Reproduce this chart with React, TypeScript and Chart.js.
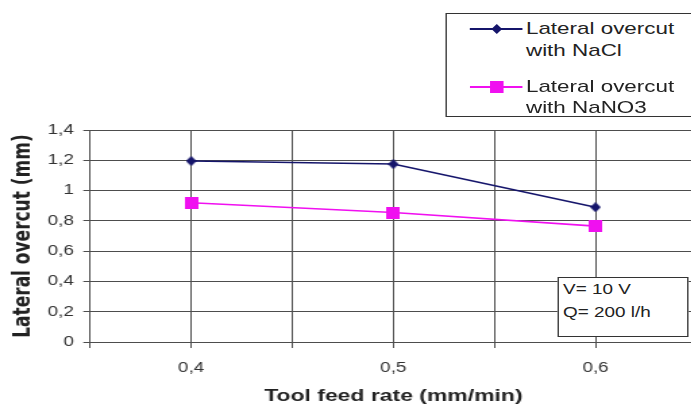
import React, { useEffect, useRef } from "react";
import { Chart, registerables } from "chart.js";

Chart.register(...registerables);

// ---- data ----
const feedRates = [0.4, 0.5, 0.6];
const xTickLabels = ["0,4", "0,5", "0,6"];
const xGridValues = [0.35, 0.4, 0.45, 0.5, 0.55, 0.6, 0.65];
const naclOvercut = [1.195, 1.175, 0.89];
const nano3Overcut = [0.92, 0.855, 0.765];
const yTickValues = [0, 0.2, 0.4, 0.6, 0.8, 1.0, 1.2, 1.4];
const seriesNames = ["Lateral overcut with NaCl", "Lateral overcut with NaNO3"];
const noteLines = ["V= 10 V", "Q= 200 l/h"];

const FONT = "'Liberation Sans', Arial, sans-serif";
const STRETCH = 1.35;
const NAVY = "#15156b";
const MAGENTA = "#f010f0";
const CW = 528;

function makeDiamond(w: number, h: number, color: string) {
  const c = document.createElement("canvas");
  c.width = w;
  c.height = h;
  const ctx = c.getContext("2d")!;
  ctx.fillStyle = color;
  ctx.beginPath();
  ctx.moveTo(w / 2, 0);
  ctx.lineTo(w, h / 2);
  ctx.lineTo(w / 2, h);
  ctx.lineTo(0, h / 2);
  ctx.closePath();
  ctx.fill();
  return c;
}

function makeRect(w: number, h: number, color: string) {
  const c = document.createElement("canvas");
  c.width = w;
  c.height = h;
  const ctx = c.getContext("2d")!;
  ctx.fillStyle = color;
  ctx.fillRect(0, 0, w, h);
  return c;
}

function fmtComma(v: number) {
  const r = Math.round(v * 10) / 10;
  return String(r).replace(".", ",");
}

export default function App() {
  const canvasRef = useRef<HTMLCanvasElement | null>(null);

  useEffect(() => {
    if (!canvasRef.current) return;
    const diamond = makeDiamond(8, 10, NAVY);
    const square = makeRect(10, 12, MAGENTA);
    const chart = new Chart(canvasRef.current, {
      type: "line",
      data: {
        datasets: [
          {
            label: seriesNames[0],
            data: feedRates.map((x, i) => ({ x, y: naclOvercut[i] })),
            borderColor: NAVY,
            backgroundColor: NAVY,
            borderWidth: 1.6,
            pointStyle: diamond as any,
            pointRadius: 5,
            tension: 0,
          },
          {
            label: seriesNames[1],
            data: feedRates.map((x, i) => ({ x, y: nano3Overcut[i] })),
            borderColor: MAGENTA,
            backgroundColor: MAGENTA,
            borderWidth: 1.6,
            pointStyle: square as any,
            pointRadius: 6,
            tension: 0,
          },
        ],
      },
      options: {
        animation: false,
        responsive: false,
        maintainAspectRatio: false,
        events: [],
        layout: { padding: { top: 130, left: 0, right: 0, bottom: 0 } },
        plugins: {
          legend: { display: false },
          tooltip: { enabled: false },
        },
        scales: {
          x: {
            type: "linear",
            position: "bottom",
            min: 0.35,
            max: 0.65,
            afterBuildTicks: (s: any) => {
              s.ticks = xGridValues.map((v) => ({ value: v }));
            },
            afterFit: (s: any) => {
              s.height = 68;
            },
            ticks: {
              autoSkip: false,
              maxRotation: 0,
              padding: 12,
              color: "#333",
              font: { family: FONT, size: 14 },
              callback: (v: any) => {
                const i = feedRates.findIndex((f) => Math.abs(f - Number(v)) < 1e-6);
                return i >= 0 ? xTickLabels[i] : "";
              },
            },
            grid: { color: "#4d4d4d", lineWidth: 1, tickLength: 6, drawTicks: true },
            border: { color: "#4d4d4d", width: 1 },
            title: {
              display: true,
              text: "Tool feed rate (mm/min)",
              color: "#222",
              font: { family: FONT, size: 17, weight: "bold" },
              padding: { top: 0, bottom: 3 },
            },
          },
          y: {
            type: "linear",
            min: 0,
            max: 1.4,
            afterBuildTicks: (s: any) => {
              s.ticks = yTickValues.map((v) => ({ value: v }));
            },
            afterFit: (s: any) => {
              s.width = 66.7;
            },
            ticks: {
              padding: 7,
              color: "#333",
              font: { family: FONT, size: 14 },
              callback: (v: any) => fmtComma(Number(v)),
            },
            grid: { color: "#4d4d4d", lineWidth: 1, tickLength: 5, drawTicks: true },
            border: { color: "#4d4d4d", width: 1 },
            title: {
              display: true,
              text: "Lateral overcut (mm)",
              color: "#222",
              font: { family: "'DejaVu Sans', sans-serif", size: 17, weight: "bold" },
              padding: { top: 7, bottom: 0 },
            },
          },
        },
      } as any,
    });
    return () => chart.destroy();
  }, []);

  const textStyle: React.CSSProperties = {
    fontFamily: FONT,
    color: "#222",
    whiteSpace: "nowrap",
  };

  return (
    <div
      style={{
        position: "fixed",
        left: 0,
        top: 0,
        width: 691,
        height: 410,
        overflow: "hidden",
        background: "#fff",
      }}
    >
      <div
        style={{
          position: "absolute",
          left: 0,
          top: 0,
          width: CW,
          height: 410,
          transform: `scaleX(${STRETCH})`,
          transformOrigin: "0 0",
        }}
      >
        <canvas ref={canvasRef} width={CW} height={410} style={{ width: CW, height: 410, display: "block" }} />
        {/* legend */}
        <div
          style={{
            position: "absolute",
            left: 329.6,
            top: 13,
            width: 200,
            height: 104,
            border: "1px solid #333",
            background: "#fff",
            boxSizing: "border-box",
          }}
        >
          <div style={{ position: "absolute", left: 17.8, top: 14.2, width: 38.5, height: 1.6, background: NAVY }} />
          <svg style={{ position: "absolute", left: 33, top: 10 }} width={8} height={10}>
            <polygon points="4,0 8,5 4,10 0,5" fill={NAVY} />
          </svg>
          <div style={{ ...textStyle, position: "absolute", left: 59, top: 3.5, fontSize: 16.6, lineHeight: "22px" }}>
            Lateral overcut
            <br />
            with NaCl
          </div>
          <div style={{ position: "absolute", left: 17.8, top: 72.2, width: 38.5, height: 1.6, background: MAGENTA }} />
          <div style={{ position: "absolute", left: 32, top: 67, width: 10, height: 12, background: MAGENTA }} />
          <div style={{ ...textStyle, position: "absolute", left: 59, top: 62, fontSize: 16.6, lineHeight: "21px" }}>
            Lateral overcut
            <br />
            with NaNO3
          </div>
        </div>
        {/* note box */}
        <div
          style={{
            position: "absolute",
            left: 412.6,
            top: 277,
            width: 97,
            height: 60,
            border: "1px solid #333",
            background: "#fff",
            boxSizing: "border-box",
          }}
        >
          <div style={{ ...textStyle, position: "absolute", left: 3.5, top: 0, fontSize: 14, lineHeight: "23px" }}>
            {noteLines[0]}
            <br />
            {noteLines[1]}
          </div>
        </div>
      </div>
    </div>
  );
}
